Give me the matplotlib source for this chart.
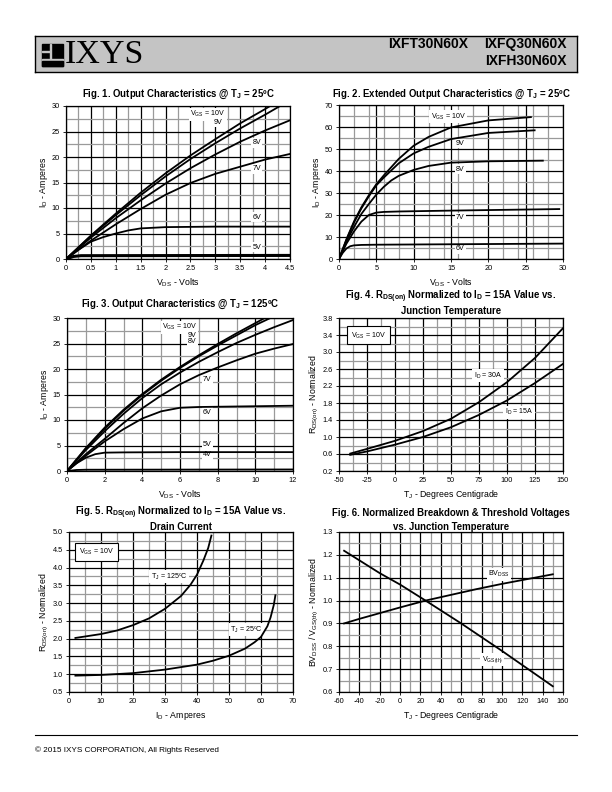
import matplotlib
matplotlib.use("Agg")
import matplotlib.pyplot as plt
import numpy as np
from matplotlib.ticker import FormatStrFormatter
from matplotlib.patches import Rectangle

plt.rcParams['font.family'] = ['Liberation Sans', 'DejaVu Sans']
plt.rcParams['mathtext.default'] = 'regular'
ETROIT = ['Liberation Sans Narrow', 'Liberation Sans', 'DejaVu Sans']

W, H = 612, 792

# Fig. 1 : caracteristiques de sortie a 25 C
f1_vds_10 = [0, 0.5, 1, 1.5, 2, 2.5, 3, 3.5, 4, 4.1]
f1_id_10 = [0, 4.6, 8.9, 13.0, 16.8, 20.3, 23.5, 26.6, 29.4, 30.0]
f1_vds_9 = [0, 0.5, 1, 1.5, 2, 2.5, 3, 3.5, 4, 4.3]
f1_id_9 = [0, 4.5, 8.6, 12.5, 16.2, 19.6, 22.7, 25.6, 28.3, 30.0]
f1_vds = [0, 0.5, 1, 1.5, 2, 2.5, 3, 3.5, 4, 4.5]
f1_id_8 = [0, 4.2, 8.0, 11.5, 14.8, 17.8, 20.5, 23.0, 25.2, 27.2]
f1_id_7 = [0, 3.6, 6.8, 9.8, 12.6, 14.9, 16.7, 18.1, 19.5, 20.6]
f1_vds_6 = [0, 0.25, 0.5, 0.75, 1, 1.25, 1.5, 2, 3, 4, 4.5]
f1_id_6 = [0, 1.8, 3.4, 4.3, 5.0, 5.6, 6.0, 6.25, 6.35, 6.35, 6.35]
f1_vds_5 = [0, 0.15, 0.3, 4.5]
f1_id_5 = [0, 0.5, 0.65, 0.7]

# Fig. 2 : caracteristiques etendues a 25 C
f2_vds_10 = [0, 1, 2, 3, 4, 5, 6, 8, 10, 12, 15, 20, 25.7]
f2_id_10 = [0, 9, 17, 23.5, 29, 34, 38, 45.5, 51.5, 55.5, 59.8, 63, 64.5]
f2_vds_9 = [0, 1, 2, 3, 4, 5, 6, 8, 10, 12, 15, 20, 26.2]
f2_id_9 = [0, 8.7, 16.5, 23, 28.5, 33.5, 37, 43.5, 48, 51, 54.5, 57.3, 58.5]
f2_vds_8 = [0, 1, 2, 3, 4, 5, 6, 7, 8, 10, 12, 15, 20, 27.3]
f2_id_8 = [0, 8, 14.5, 20.5, 25, 29.3, 32.8, 35.7, 37.8, 40.5, 42.3, 43.8, 44.4, 44.7]
f2_vds_7 = [0, 1, 2, 3, 4, 5, 6, 8, 15, 29.5]
f2_id_7 = [0, 7, 12.5, 17, 20, 21.1, 21.4, 21.6, 22, 22.7]
f2_vds_6 = [0, 0.5, 1, 1.5, 2, 3, 5, 15, 30]
f2_id_6 = [0, 2.8, 4.8, 5.8, 6.2, 6.4, 6.5, 6.7, 7.0]

# Fig. 3 : caracteristiques de sortie a 125 C
f3_vds_10 = [0, 1, 2, 3, 4, 5, 6, 7, 8, 9, 10, 10.5]
f3_id_10 = [0, 4.5, 8.5, 12, 15.1, 17.9, 20.4, 22.7, 24.9, 27, 29, 30]
f3_vds_9 = [0, 1, 2, 3, 4, 5, 6, 7, 8, 9, 10, 10.8]
f3_id_9 = [0, 4.4, 8.3, 11.8, 14.9, 17.7, 20.2, 22.5, 24.6, 26.6, 28.6, 30]
f3_vds = [0, 1, 2, 3, 4, 5, 6, 7, 8, 9, 10, 11, 12]
f3_id_8 = [0, 4.1, 7.8, 11.2, 14.3, 17.0, 19.3, 21.4, 23.3, 25.1, 26.7, 28.2, 29.6]
f3_id_7 = [0, 3.3, 6.3, 9.4, 12.3, 14.8, 17.0, 18.8, 20.3, 21.7, 23.0, 24.0, 24.9]
f3_vds_6 = [0, 1, 2, 3, 4, 5, 6, 7, 8, 10, 12]
f3_id_6 = [0, 3.0, 5.8, 8.2, 10.3, 11.7, 12.4, 12.55, 12.6, 12.7, 12.8]
f3_vds_5 = [0, 0.5, 1, 1.5, 2, 3, 6, 12]
f3_id_5 = [0, 1.5, 2.6, 3.3, 3.6, 3.65, 3.7, 3.7]
f3_vds_4 = [0, 0.5, 1, 12]
f3_id_4 = [0, 0.2, 0.25, 0.3]

# Fig. 4 : RDS(on) normalise vs temperature
f4_tj = [-40, -25, 0, 25, 50, 75, 100, 125, 150]
f4_r_30a = [0.61, 0.72, 0.91, 1.14, 1.43, 1.82, 2.29, 2.86, 3.56]
f4_r_15a = [0.58, 0.66, 0.82, 1.0, 1.23, 1.52, 1.86, 2.27, 2.72]

# Fig. 5 : RDS(on) normalise vs courant de drain
f5_id_125 = [2, 10, 15, 20, 25, 30, 35, 38, 40, 42, 43.5, 44.5]
f5_r_125 = [2.02, 2.13, 2.23, 2.38, 2.57, 2.84, 3.2, 3.52, 3.8, 4.2, 4.55, 4.9]
f5_id_25 = [2, 10, 20, 30, 40, 45, 50, 55, 58, 60, 62, 63, 64, 64.5]
f5_r_25 = [0.96, 0.98, 1.03, 1.13, 1.27, 1.38, 1.52, 1.72, 1.9, 2.05, 2.35, 2.6, 2.95, 3.22]

# Fig. 6 : BVDSS et VGS(th) normalises
f6_tj_bv = [-55, -40, -20, 0, 25, 50, 75, 100, 125, 150]
f6_bv = [0.90, 0.92, 0.945, 0.97, 1.0, 1.025, 1.05, 1.073, 1.094, 1.115]
f6_tj_th = [-55, -20, 0, 25, 60, 100, 150]
f6_vth = [1.218, 1.12, 1.07, 1.0, 0.9, 0.78, 0.625]

fig = plt.figure(figsize=(W / 100, H / 100), dpi=100)


# Creation d'un axe a partir de coordonnees en pixels
def panneau(l, t, r, b):
    return fig.add_axes([l / W, 1 - b / H, (r - l) / W, (b - t) / H])


# Grille noire (majeure) et grise (mineure) facon fiche technique
def grille(ax, xlim, ylim, xmaj, xmin, ymaj, ymin, yfmt='%g'):
    ax.set_xlim(*xlim)
    ax.set_ylim(*ylim)
    ax.set_xticks(xmaj)
    ax.set_xticks(xmin, minor=True)
    ax.set_yticks(ymaj)
    ax.set_yticks(ymin, minor=True)
    ax.xaxis.set_major_formatter(FormatStrFormatter('%g'))
    ax.yaxis.set_major_formatter(FormatStrFormatter(yfmt))
    ax.grid(which='major', color='black', lw=0.9)
    ax.grid(which='minor', color='#9a9a9a', lw=0.9)
    ax.set_axisbelow(True)
    ax.tick_params(which='major', direction='out', length=2.5, width=0.6,
                   labelsize=5.3, pad=2)
    ax.tick_params(which='minor', length=0)
    for s in ax.spines.values():
        s.set_linewidth(0.9)


def axes_txt(ax, xl, yl):
    ax.set_xlabel(xl, fontsize=6.3, labelpad=3)
    ax.set_ylabel(yl, fontsize=6.3, labelpad=1)


def titre(ax, lignes, y0):
    pos = ax.get_position()
    xc = pos.x0 + pos.width / 2
    for i, txt in enumerate(lignes):
        fig.text(xc, 1 - (y0 + i * 14) / H, txt, ha='center', va='center',
                 fontsize=6.9, fontweight='bold', family=ETROIT)


def etiquette(ax, x, y, txt):
    ax.text(x, y, txt, fontsize=5.1, ha='center', va='center', zorder=1.8,
            bbox=dict(fc='white', ec='none', pad=1.0))


def encadre(ax, x, y, txt):
    ax.text(x, y, txt, fontsize=5.1, ha='center', va='center',
            bbox=dict(boxstyle='square,pad=0.55', fc='white', ec='black', lw=0.8))


trait = dict(color='black', lw=1.3, zorder=2.5)

# ---- Fig. 1
ax1 = panneau(66, 106, 290, 259)
grille(ax1, (0, 4.5), (0, 30), np.arange(0, 4.51, 0.5), np.arange(0.25, 4.5, 0.5),
       np.arange(0, 31, 5), np.arange(2.5, 30, 5))
ax1.plot(f1_vds_10, f1_id_10, **trait)
ax1.plot(f1_vds_9, f1_id_9, **trait)
ax1.plot(f1_vds, f1_id_8, **trait)
ax1.plot(f1_vds, f1_id_7, **trait)
ax1.plot(f1_vds_6, f1_id_6, **trait)
ax1.plot(f1_vds_5, f1_id_5, color='black', lw=2.2, zorder=2.5)
etiquette(ax1, 2.85, 28.4, r'V$_{GS}$ = 10V')
etiquette(ax1, 3.05, 26.8, '9V')
etiquette(ax1, 3.83, 22.8, '8V')
etiquette(ax1, 3.83, 17.7, '7V')
etiquette(ax1, 3.83, 8.2, '6V')
etiquette(ax1, 3.83, 2.3, '5V')
axes_txt(ax1, r'V$_{DS}$ - Volts', r'I$_D$ - Amperes')
titre(ax1, [r'Fig. 1. Output Characteristics @ T$_J$ = 25ºC'], 94)

# ---- Fig. 2
ax2 = panneau(339, 105, 563, 259)
grille(ax2, (0, 30), (0, 70), np.arange(0, 31, 5), np.arange(0, 31, 2),
       np.arange(0, 71, 10), np.arange(5, 70, 10))
ax2.plot(f2_vds_10, f2_id_10, **trait)
ax2.plot(f2_vds_9, f2_id_9, **trait)
ax2.plot(f2_vds_8, f2_id_8, **trait)
ax2.plot(f2_vds_7, f2_id_7, **trait)
ax2.plot(f2_vds_6, f2_id_6, **trait)
etiquette(ax2, 14.6, 64.7, r'V$_{GS}$ = 10V')
etiquette(ax2, 16.25, 52.5, '9V')
etiquette(ax2, 16.25, 40.8, '8V')
etiquette(ax2, 16.25, 18.8, '7V')
etiquette(ax2, 16.25, 4.6, '6V')
axes_txt(ax2, r'V$_{DS}$ - Volts', r'I$_D$ - Amperes')
titre(ax2, [r'Fig. 2. Extended Output Characteristics @ T$_J$ = 25ºC'], 94)

# ---- Fig. 3
ax3 = panneau(67, 318, 293, 471)
grille(ax3, (0, 12), (0, 30), np.arange(0, 13, 2), np.arange(1, 12, 2),
       np.arange(0, 31, 5), np.arange(2.5, 30, 5))
ax3.plot(f3_vds_10, f3_id_10, **trait)
ax3.plot(f3_vds_9, f3_id_9, **trait)
ax3.plot(f3_vds, f3_id_8, **trait)
ax3.plot(f3_vds, f3_id_7, **trait)
ax3.plot(f3_vds_6, f3_id_6, **trait)
ax3.plot(f3_vds_5, f3_id_5, **trait)
ax3.plot(f3_vds_4, f3_id_4, **trait)
etiquette(ax3, 5.97, 28.2, r'V$_{GS}$ = 10V')
etiquette(ax3, 6.65, 26.6, '9V')
etiquette(ax3, 6.65, 25.3, '8V')
etiquette(ax3, 7.45, 17.9, '7V')
etiquette(ax3, 7.45, 11.5, '6V')
etiquette(ax3, 7.45, 5.2, '5V')
etiquette(ax3, 7.45, 3.2, '4V')
axes_txt(ax3, r'V$_{DS}$ - Volts', r'I$_D$ - Amperes')
titre(ax3, [r'Fig. 3. Output Characteristics @ T$_J$ = 125ºC'], 304)

# ---- Fig. 4
ax4 = panneau(339, 318, 563, 471)
grille(ax4, (-50, 150), (0.2, 3.8), np.arange(-50, 151, 25), np.arange(-37.5, 150, 25),
       np.arange(0.2, 3.81, 0.4), np.arange(0.4, 3.7, 0.4), yfmt='%.1f')
ax4.plot(f4_tj, f4_r_30a, **trait)
ax4.plot(f4_tj, f4_r_15a, **trait)
encadre(ax4, -24, 3.39, r'V$_{GS}$ = 10V')
etiquette(ax4, 83, 2.44, r'I$_D$ = 30A')
etiquette(ax4, 110.7, 1.58, r'I$_D$ = 15A')
axes_txt(ax4, r'T$_J$ - Degrees Centigrade', r'R$_{DS(on)}$ - Normalized')
titre(ax4, [r'Fig. 4. R$_{DS(on)}$ Normalized to I$_D$ = 15A Value vs.',
            'Junction Temperature'], 297)

# ---- Fig. 5
ax5 = panneau(69, 532, 293, 692)
grille(ax5, (0, 70), (0.5, 5.0), np.arange(0, 71, 10), np.arange(5, 70, 10),
       np.arange(0.5, 5.01, 0.5), np.arange(0.75, 4.8, 0.5), yfmt='%.1f')
ax5.plot(f5_id_125, f5_r_125, **trait)
ax5.plot(f5_id_25, f5_r_25, **trait)
encadre(ax5, 8.5, 4.44, r'V$_{GS}$ = 10V')
etiquette(ax5, 31.3, 3.75, r'T$_J$ = 125ºC')
etiquette(ax5, 55.5, 2.25, r'T$_J$ = 25ºC')
axes_txt(ax5, r'I$_D$ - Amperes', r'R$_{DS(on)}$ - Normalized')
titre(ax5, [r'Fig. 5. R$_{DS(on)}$ Normalized to I$_D$ = 15A Value vs.',
            'Drain Current'], 513)

# ---- Fig. 6
ax6 = panneau(339, 532, 563, 692)
grille(ax6, (-60, 160), (0.6, 1.3), np.arange(-60, 161, 20), np.arange(-50, 160, 20),
       np.arange(0.6, 1.31, 0.1), np.arange(0.65, 1.3, 0.1), yfmt='%.1f')
ax6.plot(f6_tj_bv, f6_bv, **trait)
ax6.plot(f6_tj_th, f6_vth, **trait)
etiquette(ax6, 97, 1.115, r'BV$_{DSS}$')
etiquette(ax6, 90.6, 0.742, r'V$_{GS(th)}$')
axes_txt(ax6, r'T$_J$ - Degrees Centigrade', r'BV$_{DSS}$ / V$_{GS(th)}$ - Normalized')
titre(ax6, ['Fig. 6. Normalized Breakdown & Threshold Voltages',
            'vs. Junction Temperature'], 513)

# ---- En-tete
hd = panneau(35, 36, 577, 72)
hd.set_facecolor('#c4c4c4')
hd.set_xticks([])
hd.set_yticks([])
hd.set_xlim(0, 542)
hd.set_ylim(36, 0)
for s in hd.spines.values():
    s.set_linewidth(1.0)
# logo carre
hd.add_patch(Rectangle((7, 8), 21, 22, color='black'))
hd.add_patch(Rectangle((14.5, 8), 1.6, 15, color='#c4c4c4'))
hd.add_patch(Rectangle((7, 14.5), 7.5, 1.6, color='#c4c4c4'))
hd.add_patch(Rectangle((7, 23), 21, 1.6, color='#c4c4c4'))
hd.add_patch(Rectangle((7, 24.6), 21, 5.4, color='black'))
hd.text(30, 19, 'IXYS', fontsize=24.5, family=['Liberation Serif', 'DejaVu Serif'],
        ha='left', va='center')
hd.text(433, 8, 'IXFT30N60X', fontsize=10, fontweight='bold', ha='right', va='center')
hd.text(532, 8, 'IXFQ30N60X', fontsize=10, fontweight='bold', ha='right', va='center')
hd.text(532, 25, 'IXFH30N60X', fontsize=10, fontweight='bold', ha='right', va='center')

# ---- Pied de page
fig.add_artist(plt.Line2D([35 / W, 577 / W], [1 - 735 / H, 1 - 735 / H], color='black', lw=0.8))
fig.text(35 / W, 1 - 750 / H, '© 2015 IXYS CORPORATION, All Rights Reserved',
         fontsize=5.9, ha='left', va='center')

fig.savefig('out.png', dpi=100)
